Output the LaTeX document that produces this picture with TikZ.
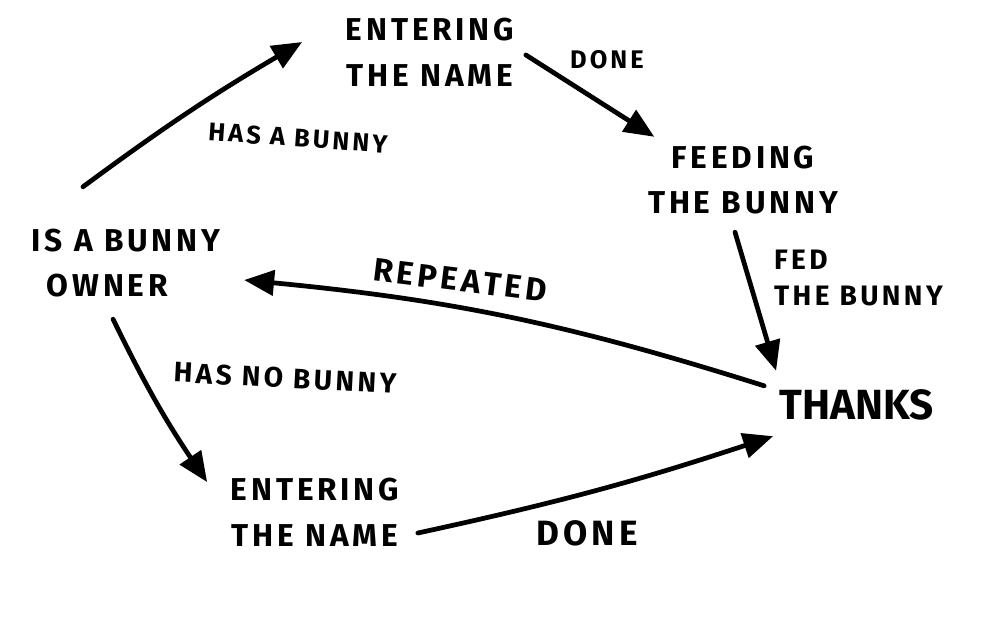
\documentclass[tikz,border=0pt]{standalone}
\usepackage{fontspec}
\setmainfont[LetterSpace=12]{Fira Sans}
\usetikzlibrary{arrows.meta, positioning}

\begin{document}
\begin{tikzpicture}[x=0.02cm, y=0.02cm,
    state/.style={font=\bfseries\fontsize{18}{26}\selectfont, align=center, inner sep=2pt},
    lbl/.style={font=\bfseries\fontsize{14.5}{21}\selectfont, align=left, inner sep=1pt},
    arr/.style={-{Triangle[length=0.6cm, width=0.5cm]}, line width=2.7pt, line cap=round}]
\useasboundingbox (0,0) rectangle (1000,643);

% Draw states
\node[state, align=left, anchor=west] (owner) at (28,380) {IS A BUNNY\\\hspace{0.3cm}OWNER};
\node[state] (enter1) at (430,591) {ENTERING\\THE NAME};
\node[state] (feed) at (743,463) {FEEDING\\THE BUNNY};
\node[state, font=\bfseries\fontsize{24}{30}\selectfont\addfontfeature{LetterSpace=0}] (thanks) at (857,238) {THANKS};
\node[state] (enter2) at (315,131) {ENTERING\\THE NAME};

% Draw transitions
\draw[arr] ([shift={(55,38)}]owner.north west) to[bend left=3] ([shift={(-40,10)}]enter1.west);
\draw[arr] ([shift={(8,-3)}]enter1.east) -- ([shift={(10,5)}]feed.north west);
\draw[arr] ([shift={(-8,-14)}]feed.south) -- ([shift={(0,15)}]thanks.north west);
\draw[arr] ([shift={(-12,0)}]thanks.north west) to[bend right=6] ([shift={(20,-17)}]owner.east);
\draw[arr] ([shift={(-13,-18)}]owner.south) to[bend right=4] ([shift={(-20,-8)}]enter2.north west);
\draw[arr] ([shift={(15,-21)}]enter2.east) to[bend right=3] ([shift={(-3,-12)}]thanks.south west);

% Transition labels
\node[lbl, rotate=-4] (hasbunny) at (298,505) {HAS A BUNNY};
\node[lbl] (done1) at (607,583) {DONE};
\node[lbl, font=\bfseries\fontsize{16}{21}\selectfont, anchor=west] (fed) at (772,365) {FED\\THE BUNNY};
\node[lbl, font=\bfseries\fontsize{18.5}{21}\selectfont, rotate=-7] (repeated) at (460,363) {REPEATED};
\node[lbl, font=\bfseries\fontsize{16}{21}\selectfont, rotate=-3] (hasnobunny) at (285,265) {HAS NO BUNNY};
\node[lbl, font=\bfseries\fontsize{20}{24}\selectfont] (done2) at (587,110) {DONE};
\end{tikzpicture}
\end{document}
